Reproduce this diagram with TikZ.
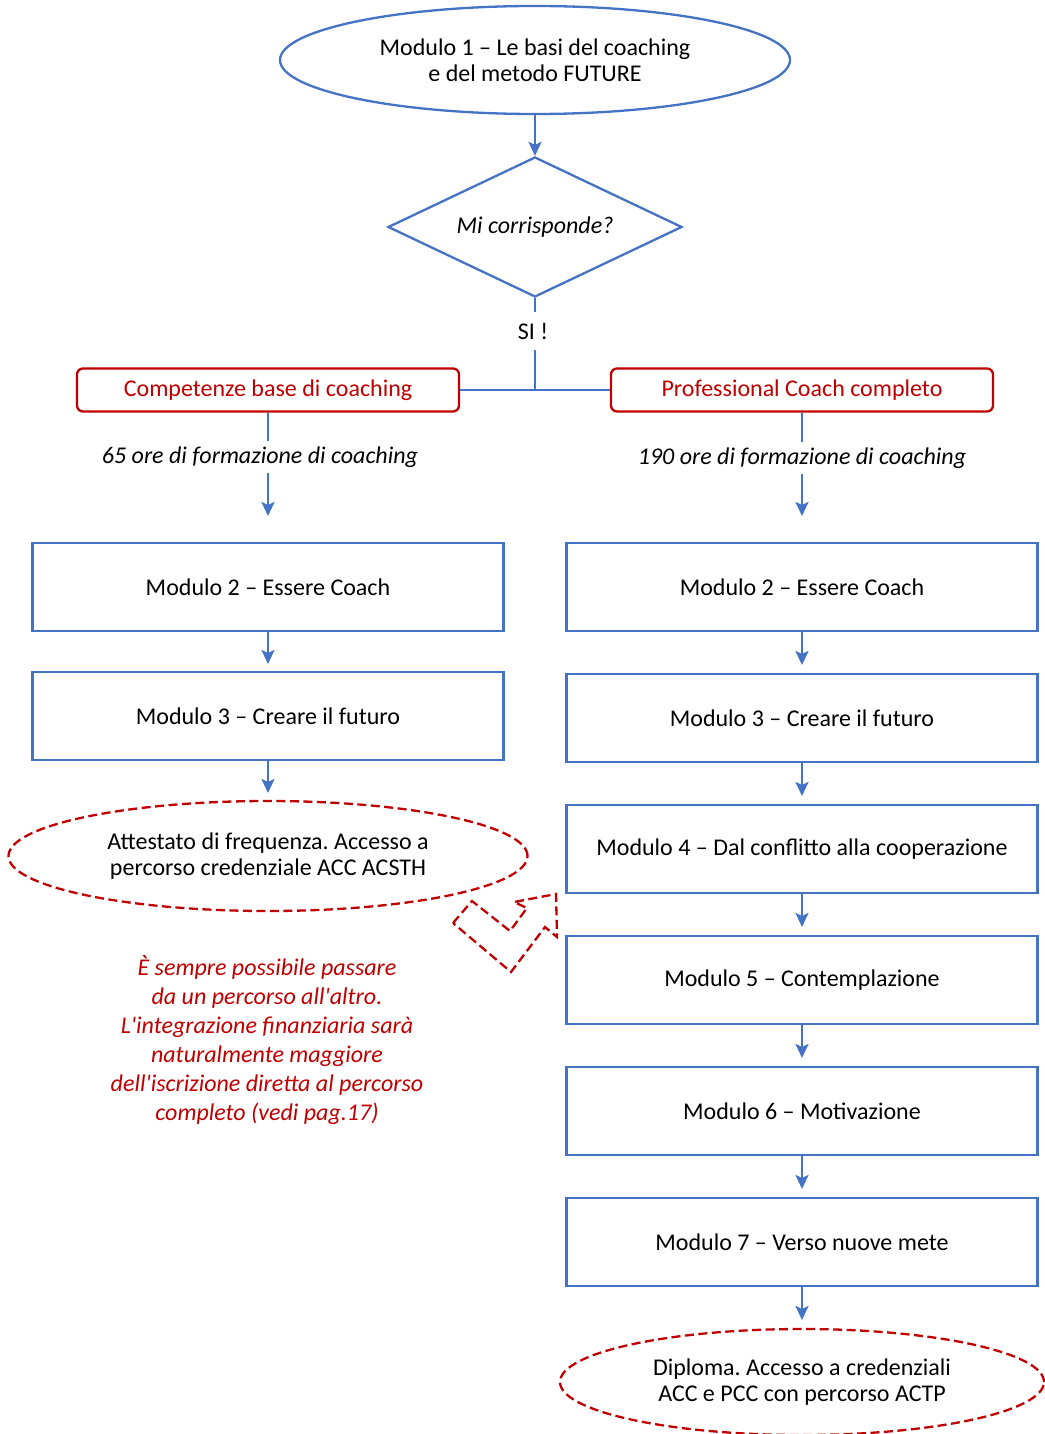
\documentclass[tikz,border=0pt]{standalone}
\usepackage{fontspec}
\setmainfont{Carlito}[Ligatures=TeXOff]
\usetikzlibrary{shapes.geometric,arrows.meta}
\definecolor{cblue}{RGB}{68,114,196}
\definecolor{cred}{RGB}{192,0,0}
\frenchspacing
\tikzset{
  bl/.style={draw=cblue, line width=2.3pt},
  arr/.style={bl, -{Stealth[length=14pt,width=13pt,inset=3pt]}},
  modbox/.style={draw=cblue, line width=2.3pt, minimum width=471pt, minimum height=88pt, inner sep=0pt, font=\fontsize{24}{26}\selectfont},
  redbox/.style={draw=cred, line width=2.3pt, rounded corners=6pt, minimum width=382pt, minimum height=43pt, inner sep=0pt, text=cred, font=\fontsize{24}{26}\selectfont},
  redell/.style={ellipse, draw=cred, line width=2.3pt, dash pattern=on 9pt off 4.5pt, inner sep=0pt, align=center, font=\fontsize{24}{26}\selectfont},
  lbl/.style={font=\fontsize{24}{26}\selectfont\itshape, inner sep=0pt, minimum height=32pt},
}
\begin{document}
\begin{tikzpicture}[x=1pt,y=-1pt]
\useasboundingbox (0,0) rectangle (1044,1434);
% top
\node[ellipse, draw=cblue, line width=2.3pt, minimum width=510pt, minimum height=108pt, inner sep=0pt, align=center, font=\fontsize{24}{26}\selectfont] (m1) at (535,60) {Modulo 1 – Le basi del coaching\\e del metodo FUTURE};
\node[diamond, draw=cblue, line width=2.3pt, aspect=2.1, minimum width=294pt, minimum height=140pt, inner sep=0pt, font=\fontsize{24}{26}\selectfont\itshape] (d) at (535,227) {Mi corrisponde?};
\draw[arr] (m1.south) -- (d.north);
\node[fill=white, inner sep=0pt, minimum height=38pt, font=\fontsize{24}{26}\selectfont] (si) at (533,331) {SI !};
\coordinate (j) at (535,390);
\draw[bl] (d.south) -- (d.south |- si.north);
\draw[bl] (j |- si.south) -- (j);
\node[redbox] (lb) at (268,390) {Competenze base di coaching};
\node[redbox] (rb) at (802,390) {Professional Coach completo};
\draw[bl] (lb.east) -- (rb.west);
% left branch
\node[lbl] (l65) at (260,457) {65 ore di formazione di coaching};
\node[lbl] (r190) at (802,458) {190 ore di formazione di coaching};
\coordinate (la) at (268,516);
\coordinate (ra) at (802,516);
\draw[bl] (lb.south) -- (lb.south |- l65.north);
\draw[arr] (lb.south |- l65.south) -- (la);
\draw[bl] (rb.south) -- (rb.south |- r190.north);
\draw[arr] (r190.south) -- (ra);
% left modules
\node[modbox] (l2) at (268,587) {Modulo 2 – Essere Coach};
\node[modbox] (l3) at (268,716) {Modulo 3 – Creare il futuro};
\node[redell, minimum width=519pt, minimum height=110pt] (le) at (268,856) {Attestato di frequenza. Accesso a\\percorso credenziale ACC ACSTH};
\coordinate (l2t) at (268,664);
\coordinate (l3t) at (268,793);
\draw[arr] (l2.south) -- (l2t);
\draw[arr] (l3.south) -- (l3t);
% right modules
\node[modbox] (r2) at (802,587) {Modulo 2 – Essere Coach};
\node[modbox] (r3) at (802,718) {Modulo 3 – Creare il futuro};
\node[modbox] (r4) at (802,849) {Modulo 4 – Dal conflitto alla cooperazione};
\node[modbox] (r5) at (802,980) {Modulo 5 – Contemplazione};
\node[modbox] (r6) at (802,1111) {Modulo 6 – Motivazione};
\node[modbox] (r7) at (802,1242) {Modulo 7 – Verso nuove mete};
\node[redell, minimum width=484pt, minimum height=106pt] (re) at (802,1382) {Diploma. Accesso a credenziali\\ACC e PCC con percorso ACTP};
\coordinate (r3t) at (802,665);
\coordinate (r4t) at (802,796);
\coordinate (r5t) at (802,927);
\coordinate (r6t) at (802,1058);
\coordinate (r7t) at (802,1189);
\coordinate (ret) at (802,1320);
\draw[arr] (r2.south) -- (r3t);
\draw[arr] (r3.south) -- (r4t);
\draw[arr] (r4.south) -- (r5t);
\draw[arr] (r5.south) -- (r6t);
\draw[arr] (r6.south) -- (r7t);
\draw[arr] (r7.south) -- (ret);
% dashed bent arrow
\draw[draw=cred, line width=2.3pt, dash pattern=on 9pt off 4.5pt, line join=miter]
  (453,923) -- (472,901) -- (510,931) -- (527,908) -- (514,902) -- (556,894) -- (557,937) -- (545,927) -- (511,972) -- cycle;
% note
\node[align=center, text=cred, font=\fontsize{24}{29}\selectfont\itshape, inner sep=0pt] (note) at (267,1040) {È sempre possibile passare\\da un percorso all'altro.\\L'integrazione finanziaria sarà\\naturalmente maggiore\\dell'iscrizione diretta al percorso\\completo (vedi pag.17)};
\end{tikzpicture}
\end{document}
